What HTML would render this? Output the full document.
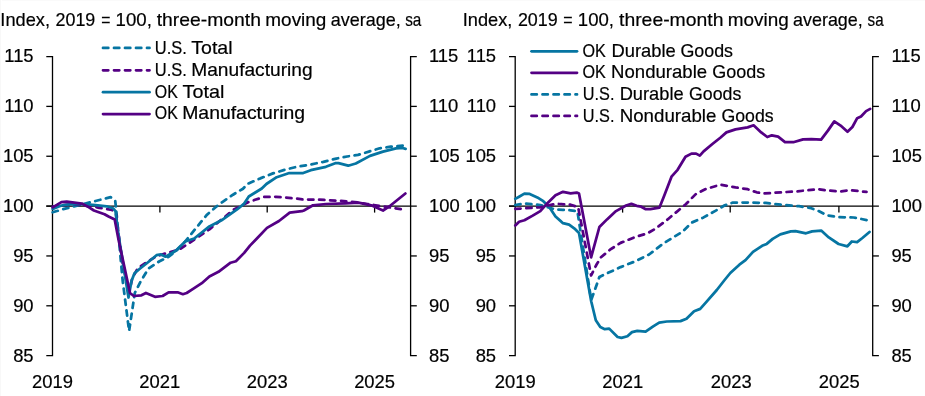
<!DOCTYPE html>
<html><head><meta charset="utf-8"><style>
html,body{margin:0;padding:0;background:#fff;width:925px;height:396px;overflow:hidden}
svg{display:block}
svg text{will-change:transform}
text{font-family:"Liberation Sans", sans-serif;font-size:18.4px;fill:#000;stroke:#000;stroke-width:0.2px}
</style></head><body>
<svg width="925" height="396" viewBox="0 0 925 396">
<rect x="0" y="0" width="925" height="396" fill="#fff"/>
<rect x="0" y="0" width="1" height="396" fill="#f8f8f8"/>
<rect x="2" y="0" width="923" height="1" fill="#fafafa"/>
<path d="M46.3,56.54999999999998 H52.5 V355.65 H46.3" stroke="#000" stroke-width="1.3" fill="none"/>
<path d="M46.3,305.8 H52.5" stroke="#000" stroke-width="1.3" fill="none"/>
<path d="M46.3,255.95 H52.5" stroke="#000" stroke-width="1.3" fill="none"/>
<path d="M46.3,206.1 H52.5" stroke="#000" stroke-width="1.3" fill="none"/>
<path d="M46.3,156.25 H52.5" stroke="#000" stroke-width="1.3" fill="none"/>
<path d="M46.3,106.39999999999999 H52.5" stroke="#000" stroke-width="1.3" fill="none"/>
<path d="M416.8,56.54999999999998 H410.6 V355.65 H416.8" stroke="#000" stroke-width="1.3" fill="none"/>
<path d="M410.6,305.8 H416.8" stroke="#000" stroke-width="1.3" fill="none"/>
<path d="M410.6,255.95 H416.8" stroke="#000" stroke-width="1.3" fill="none"/>
<path d="M410.6,156.25 H416.8" stroke="#000" stroke-width="1.3" fill="none"/>
<path d="M410.6,106.39999999999999 H416.8" stroke="#000" stroke-width="1.3" fill="none"/>
<path d="M46.3,206.1 H416.8" stroke="#000" stroke-width="1.3" fill="none"/>
<path d="M159.9,206.1 V212.6" stroke="#000" stroke-width="1.3" fill="none"/>
<path d="M267.2,206.1 V212.6" stroke="#000" stroke-width="1.3" fill="none"/>
<path d="M374.6,206.1 V212.6" stroke="#000" stroke-width="1.3" fill="none"/>
<text x="33.6" y="362.4" text-anchor="end">85</text>
<text x="429" y="362.4">85</text>
<text x="33.6" y="312.4" text-anchor="end">90</text>
<text x="429" y="312.4">90</text>
<text x="33.6" y="262.4" text-anchor="end">95</text>
<text x="429" y="262.4">95</text>
<text x="33.6" y="212.4" text-anchor="end">100</text>
<text x="429" y="212.4">100</text>
<text x="33.6" y="162.4" text-anchor="end">105</text>
<text x="429" y="162.4">105</text>
<text x="33.6" y="112.4" text-anchor="end">110</text>
<text x="429" y="112.4">110</text>
<text x="33.6" y="62.4" text-anchor="end">115</text>
<text x="429" y="62.4">115</text>
<path d="M509.00000000000006,56.54999999999998 H515.2 V355.65 H509.00000000000006" stroke="#000" stroke-width="1.3" fill="none"/>
<path d="M509.00000000000006,305.8 H515.2" stroke="#000" stroke-width="1.3" fill="none"/>
<path d="M509.00000000000006,255.95 H515.2" stroke="#000" stroke-width="1.3" fill="none"/>
<path d="M509.00000000000006,206.1 H515.2" stroke="#000" stroke-width="1.3" fill="none"/>
<path d="M509.00000000000006,156.25 H515.2" stroke="#000" stroke-width="1.3" fill="none"/>
<path d="M509.00000000000006,106.39999999999999 H515.2" stroke="#000" stroke-width="1.3" fill="none"/>
<path d="M878.9000000000001,56.54999999999998 H872.7 V355.65 H878.9000000000001" stroke="#000" stroke-width="1.3" fill="none"/>
<path d="M872.7,305.8 H878.9000000000001" stroke="#000" stroke-width="1.3" fill="none"/>
<path d="M872.7,255.95 H878.9000000000001" stroke="#000" stroke-width="1.3" fill="none"/>
<path d="M872.7,156.25 H878.9000000000001" stroke="#000" stroke-width="1.3" fill="none"/>
<path d="M872.7,106.39999999999999 H878.9000000000001" stroke="#000" stroke-width="1.3" fill="none"/>
<path d="M509.00000000000006,206.1 H878.9000000000001" stroke="#000" stroke-width="1.3" fill="none"/>
<path d="M622.6,206.1 V212.6" stroke="#000" stroke-width="1.3" fill="none"/>
<path d="M730.2,206.1 V212.6" stroke="#000" stroke-width="1.3" fill="none"/>
<path d="M838.9,206.1 V212.6" stroke="#000" stroke-width="1.3" fill="none"/>
<text x="496.1" y="362.4" text-anchor="end">85</text>
<text x="891.4" y="362.4">85</text>
<text x="496.1" y="312.4" text-anchor="end">90</text>
<text x="891.4" y="312.4">90</text>
<text x="496.1" y="262.4" text-anchor="end">95</text>
<text x="891.4" y="262.4">95</text>
<text x="496.1" y="212.4" text-anchor="end">100</text>
<text x="891.4" y="212.4">100</text>
<text x="496.1" y="162.4" text-anchor="end">105</text>
<text x="891.4" y="162.4">105</text>
<text x="496.1" y="112.4" text-anchor="end">110</text>
<text x="891.4" y="112.4">110</text>
<text x="496.1" y="62.4" text-anchor="end">115</text>
<text x="891.4" y="62.4">115</text>
<text x="52.5" y="387.7" text-anchor="middle">2019</text>
<text x="159.7" y="387.7" text-anchor="middle">2021</text>
<text x="267.2" y="387.7" text-anchor="middle">2023</text>
<text x="374.6" y="387.7" text-anchor="middle">2025</text>
<text x="515.2" y="387.7" text-anchor="middle">2019</text>
<text x="622.7" y="387.7" text-anchor="middle">2021</text>
<text x="731.3" y="387.7" text-anchor="middle">2023</text>
<text x="839.3" y="387.7" text-anchor="middle">2025</text>
<path d="M103.0,47.9 H149.5" stroke="#0675A2" stroke-width="2.75" stroke-linecap="round" stroke-dasharray="5.3 5.7"/>
<path d="M103.0,70.3 H149.5" stroke="#540084" stroke-width="2.75" stroke-linecap="round" stroke-dasharray="5.3 5.7"/>
<path d="M103.0,92.2 H149.5" stroke="#0675A2" stroke-width="2.75" stroke-linecap="round"/>
<path d="M103.0,114.1 H149.5" stroke="#540084" stroke-width="2.75" stroke-linecap="round"/>
<path d="M531.5,51.3 H577.0" stroke="#0675A2" stroke-width="2.75" stroke-linecap="round"/>
<path d="M531.5,72.8 H577.0" stroke="#540084" stroke-width="2.75" stroke-linecap="round"/>
<path d="M531.5,94.4 H577.0" stroke="#0675A2" stroke-width="2.75" stroke-linecap="round" stroke-dasharray="5.3 5.7"/>
<path d="M531.5,115.9 H577.0" stroke="#540084" stroke-width="2.75" stroke-linecap="round" stroke-dasharray="5.3 5.7"/>
<text x="0.36" y="25.50" textLength="49.62" lengthAdjust="spacingAndGlyphs">Index,</text>
<text x="462.75" y="25.50" textLength="49.57" lengthAdjust="spacingAndGlyphs">Index,</text>
<text x="55.51" y="25.50" textLength="39.77" lengthAdjust="spacingAndGlyphs">2019</text>
<text x="517.88" y="25.50" textLength="39.76" lengthAdjust="spacingAndGlyphs">2019</text>
<text x="101.18" y="25.50" textLength="9.22" lengthAdjust="spacingAndGlyphs">=</text>
<text x="563.19" y="25.50" textLength="9.38" lengthAdjust="spacingAndGlyphs">=</text>
<text x="115.62" y="25.50" textLength="36.29" lengthAdjust="spacingAndGlyphs">100,</text>
<text x="577.81" y="25.50" textLength="36.15" lengthAdjust="spacingAndGlyphs">100,</text>
<text x="156.70" y="25.50" textLength="104.32" lengthAdjust="spacingAndGlyphs">three-month</text>
<text x="619.03" y="25.50" textLength="104.45" lengthAdjust="spacingAndGlyphs">three-month</text>
<text x="265.36" y="25.50" textLength="61.01" lengthAdjust="spacingAndGlyphs">moving</text>
<text x="727.72" y="25.50" textLength="60.97" lengthAdjust="spacingAndGlyphs">moving</text>
<text x="330.75" y="25.50" textLength="70.04" lengthAdjust="spacingAndGlyphs">average,</text>
<text x="793.02" y="25.50" textLength="69.79" lengthAdjust="spacingAndGlyphs">average,</text>
<text x="405.21" y="25.50" textLength="16.19" lengthAdjust="spacingAndGlyphs">sa</text>
<text x="867.62" y="25.50" textLength="16.03" lengthAdjust="spacingAndGlyphs">sa</text>
<text x="154.72" y="53.70" textLength="32.08" lengthAdjust="spacingAndGlyphs">U.S.</text>
<text x="191.25" y="53.70" textLength="41.30" lengthAdjust="spacingAndGlyphs">Total</text>
<text x="154.72" y="75.60" textLength="32.08" lengthAdjust="spacingAndGlyphs">U.S.</text>
<text x="191.26" y="75.60" textLength="121.32" lengthAdjust="spacingAndGlyphs">Manufacturing</text>
<text x="154.81" y="97.80" textLength="22.99" lengthAdjust="spacingAndGlyphs">OK</text>
<text x="182.60" y="97.80" textLength="41.75" lengthAdjust="spacingAndGlyphs">Total</text>
<text x="154.81" y="119.40" textLength="22.99" lengthAdjust="spacingAndGlyphs">OK</text>
<text x="182.19" y="119.40" textLength="122.91" lengthAdjust="spacingAndGlyphs">Manufacturing</text>
<text x="582.53" y="56.80" textLength="23.30" lengthAdjust="spacingAndGlyphs">OK</text>
<text x="611.44" y="56.80" textLength="64.30" lengthAdjust="spacingAndGlyphs">Durable</text>
<text x="680.44" y="56.80" textLength="52.61" lengthAdjust="spacingAndGlyphs">Goods</text>
<text x="582.53" y="78.30" textLength="23.30" lengthAdjust="spacingAndGlyphs">OK</text>
<text x="611.14" y="78.30" textLength="96.04" lengthAdjust="spacingAndGlyphs">Nondurable</text>
<text x="712.29" y="78.30" textLength="52.91" lengthAdjust="spacingAndGlyphs">Goods</text>
<text x="582.80" y="100.40" textLength="31.66" lengthAdjust="spacingAndGlyphs">U.S.</text>
<text x="619.69" y="100.40" textLength="63.92" lengthAdjust="spacingAndGlyphs">Durable</text>
<text x="689.06" y="100.40" textLength="52.31" lengthAdjust="spacingAndGlyphs">Goods</text>
<text x="582.80" y="122.00" textLength="31.66" lengthAdjust="spacingAndGlyphs">U.S.</text>
<text x="619.69" y="122.00" textLength="96.68" lengthAdjust="spacingAndGlyphs">Nondurable</text>
<text x="721.46" y="122.00" textLength="52.14" lengthAdjust="spacingAndGlyphs">Goods</text>
<polyline points="52.7,212.3 65.2,208.6 80.3,204.8 95.5,201.0 110.6,197.2 115.2,200.6 116.2,209.7 122.6,280.0 129.1,331.0 134.8,293.0 140.9,281.0 148.5,268.5 159.1,261.5 168.4,257.0 176.0,251.0 184.0,242.9 195.3,229.0 206.6,215.1 216.7,206.3 222.0,202.3 233.0,194.7 243.0,188.7 247.6,183.8 260.3,178.4 272.9,173.4 285.5,169.6 298.1,166.5 310.8,164.5 323.4,161.8 336.3,158.6 347.1,156.5 358.0,154.9 368.9,151.6 379.7,148.3 390.6,146.7 403.6,145.6" fill="none" stroke="#0675A2" stroke-width="2.75" stroke-linejoin="round" stroke-linecap="round" stroke-dasharray="5.3 5.7"/>
<polyline points="52.7,206.5 70.0,204.5 90.0,205.5 99.2,207.8 112.0,210.0 116.0,214.0 122.0,260.0 129.0,293.0 132.3,277.9 137.9,268.2 147.0,262.0 156.0,256.5 166.7,253.0 179.0,249.8 209.4,229.4 233.6,209.7 248.0,202.3 255.0,199.8 264.0,197.0 276.0,196.8 294.2,198.3 302.6,199.5 319.5,199.7 338.9,200.8 354.5,202.0 367.4,204.0 384.3,206.6 405.8,209.9" fill="none" stroke="#540084" stroke-width="2.75" stroke-linejoin="round" stroke-linecap="round" stroke-dasharray="5.3 5.7"/>
<polyline points="52.7,208.9 61.4,205.5 68.9,204.4 84.1,204.0 95.5,205.2 106.8,206.3 112.9,208.2 115.5,211.2 117.7,230.0 128.5,297.5 131.5,281.0 134.5,273.3 139.8,268.8 147.4,262.7 156.5,255.2 161.0,254.4 165.6,256.7 175.8,250.8 185.2,241.5 194.2,238.5 209.4,226.4 221.5,220.3 236.7,209.7 244.2,203.6 248.8,196.5 261.8,188.5 266.4,184.0 276.7,177.2 289.3,173.0 303.2,173.0 310.8,170.2 325.9,166.8 335.2,163.2 338.5,163.2 348.2,165.7 355.8,163.5 370.0,155.9 383.0,151.6 396.0,148.3 402.6,148.0 405.6,148.8" fill="none" stroke="#0675A2" stroke-width="2.75" stroke-linejoin="round" stroke-linecap="round"/>
<polyline points="52.7,207.4 61.4,202.1 66.7,201.7 81.8,203.6 87.9,206.7 93.9,210.5 104.5,214.2 108.6,216.5 114.7,219.5 118.6,240.0 130.0,293.0 133.8,296.0 141.4,295.3 145.9,293.0 155.0,296.8 162.6,296.0 168.6,292.3 177.6,292.3 182.9,294.2 186.7,293.0 192.7,289.2 201.8,283.2 209.4,276.4 218.5,271.8 230.6,262.7 235.9,261.2 244.2,252.9 250.0,245.6 256.4,239.0 267.0,227.9 279.0,221.0 289.7,212.7 301.8,211.2 303.9,210.5 313.0,205.3 326.0,204.0 345.4,203.3 358.4,202.7 371.3,205.3 383.0,210.5 390.8,205.3 405.4,193.5" fill="none" stroke="#540084" stroke-width="2.75" stroke-linejoin="round" stroke-linecap="round"/>
<polyline points="515.3,198.9 519.1,196.7 524.4,193.6 529.7,193.9 537.3,197.4 543.3,201.2 549.4,207.3 555.5,216.4 563.0,223.2 569.1,224.7 575.2,229.2 579.0,233.0 587.4,280.0 591.2,301.2 595.8,320.2 600.3,327.0 604.8,329.2 609.2,328.6 617.6,337.0 621.4,337.9 627.4,336.2 632.0,332.1 637.3,330.9 645.6,331.7 653.2,326.4 659.2,322.6 666.8,321.5 680.5,321.1 686.5,318.8 694.1,311.2 700.2,308.9 706.2,302.1 716.8,290.0 724.2,280.5 730.3,273.0 739.4,264.7 745.5,260.2 753.0,251.8 762.1,245.8 766.7,243.9 772.7,238.9 780.3,234.4 790.9,231.4 795.5,231.1 806.0,233.3 812.1,231.4 821.2,230.6 828.8,237.4 838.6,244.0 847.4,246.3 851.8,241.5 857.1,242.2 862.4,238.0 869.5,232.0" fill="none" stroke="#0675A2" stroke-width="2.75" stroke-linejoin="round" stroke-linecap="round"/>
<polyline points="515.3,225.5 519.1,221.7 524.4,220.2 532.7,215.6 540.3,211.1 547.9,202.7 555.5,195.2 563.0,191.8 570.6,193.3 576.7,192.6 579.0,193.6 591.1,257.3 599.4,227.0 607.0,219.4 616.0,211.1 626.1,205.5 631.4,203.9 636.7,205.8 641.2,206.7 645.8,209.2 650.3,209.2 659.4,207.7 663.9,196.4 671.5,176.7 677.6,169.8 685.5,156.7 691.5,153.6 696.1,153.6 699.8,155.6 703.6,151.4 712.7,143.8 720.3,137.7 726.4,132.4 735.5,129.4 747.6,127.4 753.6,125.3 761.2,132.4 767.3,137.0 771.8,135.3 778.1,136.7 785.0,142.2 793.3,142.2 803.1,139.4 811.4,139.2 821.1,139.7 828.1,130.4 834.3,121.4 840.6,125.6 847.5,131.8 852.4,127.0 857.2,118.2 861.0,116.5 866.1,111.1 870.2,108.9" fill="none" stroke="#540084" stroke-width="2.75" stroke-linejoin="round" stroke-linecap="round"/>
<polyline points="515.3,205.0 525.2,203.5 540.3,205.0 555.5,209.5 570.6,210.3 577.4,211.1 591.2,300.0 597.3,283.0 599.4,277.0 605.5,274.0 620.6,267.1 635.8,261.1 649.1,254.5 662.7,243.9 674.8,236.4 682.4,231.8 691.5,222.7 703.6,217.4 715.8,210.6 724.8,205.3 732.4,202.7 746.0,202.5 765.8,202.9 780.9,204.7 799.1,206.2 811.2,208.2 818.3,210.9 827.1,215.3 839.5,217.1 853.6,217.5 869.0,220.5" fill="none" stroke="#0675A2" stroke-width="2.75" stroke-linejoin="round" stroke-linecap="round" stroke-dasharray="5.3 5.7"/>
<polyline points="515.3,208.8 525.2,208.3 540.3,207.3 555.5,203.8 570.6,204.7 578.2,207.3 591.1,275.5 596.4,264.8 600.9,257.3 610.0,249.7 620.6,242.9 635.8,236.8 647.6,233.3 655.2,228.8 667.3,219.7 676.4,212.1 685.5,204.5 695.8,194.1 705.2,189.2 720.3,184.7 735.5,187.4 747.6,189.2 756.7,192.3 764.2,193.5 780.9,192.3 796.0,191.5 807.7,190.2 818.3,189.2 828.9,190.6 839.5,191.5 850.1,190.1 866.5,191.9" fill="none" stroke="#540084" stroke-width="2.75" stroke-linejoin="round" stroke-linecap="round" stroke-dasharray="5.3 5.7"/>
</svg>
</body></html>
